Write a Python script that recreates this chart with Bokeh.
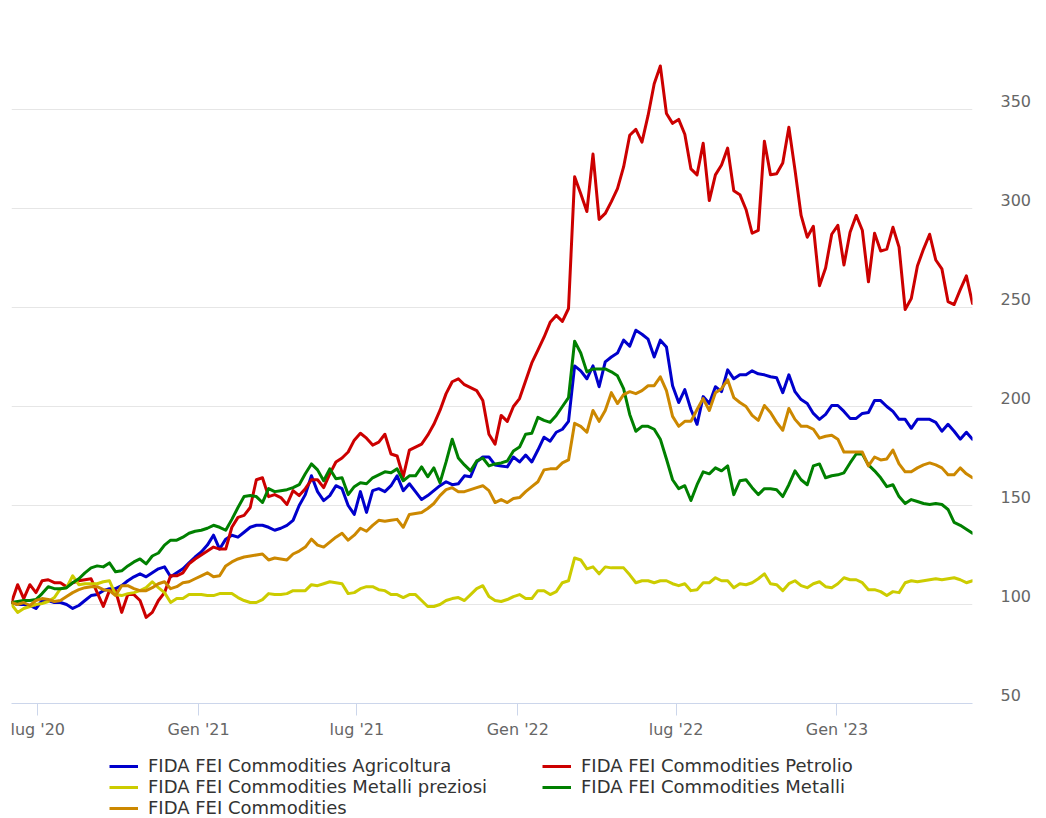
import pandas as pd
from bokeh.plotting import figure
from bokeh.layouts import column
from bokeh.models import FixedTicker, Range1d, Legend, LegendItem
from bokeh.embed import file_html
from bokeh.resources import INLINE

# ---------------- data (weekly index values, start 2020-06-01) ----------------
start_date = "2020-06-01"

agricoltura = [
    101, 100, 100, 99.5, 98, 102, 102, 101, 101, 100,
    98, 99.5, 102, 104.5, 105, 107, 108, 108, 109.5, 112,
    114, 115.5, 114, 116, 118, 119, 114, 116, 118, 121,
    124, 126.5, 130, 135, 128, 133, 135, 134, 136.5, 139,
    140, 140, 139, 137.5, 138.5, 140, 142.5, 150, 155.5, 165,
    157, 152.5, 155, 160, 158.5, 150, 145.5, 157, 146.5, 157.5,
    158.5, 157, 160, 165, 157.5, 161, 157, 153, 155, 157.5,
    160, 162, 160.5, 161, 165, 164.5, 172, 174.5, 174.5, 170.5,
    170, 169.5, 174.5, 172, 175.5, 172, 178, 184.5, 182.5, 187,
    188.5, 192.5, 220.5, 218, 214, 220.5, 210, 222.5, 225, 227,
    233.5, 230.5, 238.5, 236.5, 234, 225, 233.5, 230, 210.5, 202,
    208.5, 198.5, 191, 205, 201.5, 210, 207.5, 218.5, 214, 216,
    216, 218, 216.5, 216, 215, 214.5, 207, 216, 207.5, 203.5,
    201.5, 196.5, 193.5, 196, 200.5, 200.5, 197.5, 194, 194, 196.5,
    197, 203, 203, 200, 197.5, 193.5, 193.5, 189, 193.5, 193.5,
    193.5, 192, 187.5, 191, 187.5, 183.5, 187, 183.5,
]

petrolio = [
    101, 110, 103, 110, 106, 112, 112.5, 111, 111, 109,
    111, 112, 112.5, 113, 106, 99, 107, 107, 96, 105,
    105, 102, 93.5, 96, 102, 106, 114.5, 114.5, 116, 120.5,
    123, 125, 127, 129, 128, 128, 139, 144, 145, 149,
    163, 164, 154.5, 155.5, 154, 150.5, 157.5, 155, 158.5, 163,
    163, 159, 166, 172, 174, 177, 183, 186.5, 184, 180.5,
    182, 186, 176, 175, 164.5, 178, 179.5, 181, 185.5, 191,
    198, 206.5, 212.5, 214, 211, 209.5, 208, 203, 186, 181,
    195.5, 192.5, 200, 204, 213, 222, 228.5, 235, 242.5, 246,
    243, 249.5, 316, 307.5, 298.5, 327.5, 294.5, 297.5, 303.5, 310,
    321, 337, 340, 333.5, 347, 363, 372, 348, 343, 345,
    337.5, 320, 317, 333, 304, 317, 322, 330.5, 309, 307,
    299.5, 287.5, 289, 334, 317, 317.5, 323, 341, 319.5, 296.5,
    285.5, 291, 261, 270, 287, 291.5, 271.5, 288, 296.5, 289,
    263, 287.5, 278.5, 279.5, 290.5, 280.5, 249, 254.5, 271, 279.5,
    287, 274, 269.5, 253, 251.5, 259, 266, 252,
]

metalli_preziosi = [
    100, 96, 98, 99, 100, 100.5, 101.5, 103.5, 108, 108.5,
    114.5, 110, 110.5, 110.5, 110.5, 111.5, 112, 105, 104.5, 105.5,
    106, 107, 108.5, 111.5, 108.5, 106, 101, 103, 103, 105,
    105, 105, 104.5, 104.5, 105.5, 105.5, 105.5, 103.5, 102, 101,
    101, 102.5, 105.5, 105, 105, 105.5, 107, 107, 107, 110,
    109.5, 110.5, 111.5, 111, 110.5, 105.5, 106, 108, 109, 109,
    107.5, 107, 105, 105, 103.5, 105, 105, 102, 99, 99,
    100, 102, 103, 103.5, 102, 105, 108, 109.5, 104, 102,
    101.5, 102.5, 104, 105, 103, 103, 107, 107, 105, 106.5,
    111, 112, 123.5, 122.5, 118, 119, 115.5, 119, 118.5, 118.5,
    118.5, 115, 111, 112, 112, 111, 112, 112, 110.5, 109.5,
    110.5, 107, 107.5, 111, 111, 113.5, 112, 112, 108.5, 110.5,
    110, 111, 113, 115.5, 110.5, 110, 107, 110.5, 112, 109.5,
    108.5, 110.5, 111.5, 109, 108.5, 110.5, 113.5, 112.5, 112.5, 111,
    107.5, 107.5, 106.5, 104.5, 106.5, 106, 111, 112, 111.5, 112,
    112.5, 113, 112.5, 113, 113.5, 112.5, 111, 112,
]

metalli = [
    101, 101.5, 102, 102, 102.5, 105.5, 109, 108, 108, 108.5,
    111, 113, 116, 118.5, 119.5, 119, 121, 116.5, 117, 119.5,
    121.5, 123, 120.5, 124.5, 126, 130, 132.5, 132.5, 134, 136,
    137, 137.5, 138.5, 140, 139, 137.5, 143, 149, 154.5, 155,
    154.5, 151.5, 158.5, 157, 157.5, 158, 159, 160.5, 166, 171,
    168, 162.5, 168.5, 163.5, 164, 155.5, 159.5, 161.5, 161, 164,
    165.5, 167, 166.5, 168.5, 162.5, 165, 165, 169.5, 164.5, 169,
    161.5, 172, 183.5, 174, 170.5, 167.5, 172.5, 174, 170, 171,
    171.5, 172.5, 177.5, 179.5, 186, 186.5, 194.5, 193, 192, 195.5,
    200, 204.5, 233, 227, 217.5, 219, 219, 219, 217.5, 215.5,
    209, 196, 187.5, 190, 190, 188.5, 183.5, 173.5, 163, 158.5,
    160, 152.5, 160.5, 167, 166, 169, 167.5, 170, 155.5, 162.5,
    163, 159, 155.5, 158.5, 158.5, 158, 154.5, 160.5, 167.5, 163,
    160.5, 170, 171, 164, 165, 165.5, 166.5, 171.5, 176, 176,
    170.5, 167.5, 164, 159.5, 160.5, 154.5, 151, 153, 152, 151,
    150.5, 151, 150.5, 148, 141.5, 140, 138, 136,
]

commodities = [
    101, 100, 101, 99.5, 102, 103, 102.5, 101.5, 102, 104,
    106, 107.5, 108.5, 109, 109, 107.5, 107, 104.5, 109.5, 109.5,
    108, 107, 107, 108.5, 110.5, 111.5, 108, 109, 111, 111.5,
    113, 114.5, 116, 114, 114.5, 119.5, 121.5, 123, 124, 124.5,
    125, 125.5, 122.5, 123.5, 123, 122.5, 125.5, 127, 129, 133,
    130, 129, 131.5, 134, 136, 132.5, 135, 138.5, 137, 140,
    142.5, 142, 142.5, 143, 139, 145.5, 146, 146.5, 148.5, 151,
    155, 158, 159, 157, 157, 158, 159, 160, 157.5, 151.5,
    153, 151.5, 153.5, 154, 157, 159.5, 162, 168, 168.5, 168.5,
    171.5, 173, 191.5, 190, 187, 198, 192.5, 198, 207, 201.5,
    206, 207.5, 206.5, 208, 210.5, 210.5, 215, 208, 195, 190,
    192.5, 192.5, 198.5, 204, 198, 207, 209, 213.5, 204.5, 202,
    200, 195.5, 193, 200.5, 197, 192, 188, 199, 193.5, 190,
    190, 188.5, 184, 185, 185.5, 183.5, 177, 177, 177, 177,
    170, 174.5, 173, 173.5, 178, 171, 167, 167, 169, 170.5,
    171.5, 170.5, 169, 165.5, 165.5, 169, 166, 164,
]

series_names = [
    "FIDA FEI Commodities Agricoltura",
    "FIDA FEI Commodities Petrolio",
    "FIDA FEI Commodities Metalli preziosi",
    "FIDA FEI Commodities Metalli",
    "FIDA FEI Commodities",
]
series_values = [agricoltura, petrolio, metalli_preziosi, metalli, commodities]
series_colors = ["#0000cc", "#cc0000", "#cccc00", "#008000", "#cc8800"]

x_tick_dates = ["2020-07-01", "2021-01-01", "2021-07-01", "2022-01-01", "2022-07-01", "2023-01-01"]
x_tick_labels = ["lug '20", "Gen '21", "lug '21", "Gen '22", "lug '22", "Gen '23"]
y_tick_values = [50, 100, 150, 200, 250, 300, 350]
y_grid_values = [50, 100, 150, 200, 250, 300, 350, 400]

# ---------------- build ----------------
n = len(agricoltura)
dates = pd.date_range(start_date, periods=n, freq="7D")
x_ms = [int(d.value // 10**6) for d in dates]
xt_ms = [int(pd.Timestamp(d).value // 10**6) for d in x_tick_dates]

W = 1046
H_MAIN = 745
H_LEG = 73

p = figure(
    width=W, height=H_MAIN,
    output_backend="svg", toolbar_location=None,
    x_range=Range1d(x_ms[0], x_ms[-1]),
    y_range=Range1d(50, 400),
    y_axis_location="right",
    min_border_left=11, min_border_right=74,
    min_border_top=10, min_border_bottom=42,
)
p.outline_line_color = None
p.background_fill_color = "white"
p.border_fill_color = "white"

for vals, col in zip(series_values, series_colors):
    p.line(x_ms, vals, line_color=col, line_width=3,
           line_join="round", line_cap="round")

# x axis
xa = p.xaxis[0]
xa.ticker = FixedTicker(ticks=xt_ms)
xa.major_label_overrides = {t: lab for t, lab in zip(xt_ms, x_tick_labels)}
xa.axis_line_color = "#ccd6eb"
xa.major_tick_line_color = "#ccd6eb"
xa.minor_tick_line_color = None
xa.major_tick_in = 0
xa.major_tick_out = 12
xa.major_label_standoff = 4
xa.major_label_text_font = "DejaVu Sans"
xa.major_label_text_font_size = "16px"
xa.major_label_text_color = "#666666"
p.xgrid.visible = False

# y axis (labels sit just above their gridline)
lift = 4.25
ya = p.yaxis[0]
ya.ticker = FixedTicker(ticks=[v + lift for v in y_tick_values])
ya.major_label_overrides = {v + lift: str(v) for v in y_tick_values}
ya.axis_line_color = None
ya.major_tick_line_color = None
ya.minor_tick_line_color = None
ya.major_tick_in = 0
ya.major_tick_out = 0
ya.major_label_standoff = 28
ya.major_label_text_font = "DejaVu Sans"
ya.major_label_text_font_size = "16px"
ya.major_label_text_color = "#666666"
p.ygrid[0].ticker = FixedTicker(ticks=y_grid_values)
p.ygrid[0].grid_line_color = "#e6e6e6"
p.ygrid[0].grid_line_width = 1

# ---------------- legend strip ----------------
# the same series are drawn here far outside the strip's visible range,
# only so that the legend has renderers to take its line swatches from
q = figure(
    width=W, height=H_LEG,
    output_backend="svg", toolbar_location=None,
    x_range=Range1d(x_ms[0], x_ms[-1]), y_range=Range1d(-20, -10),
    x_axis_type=None, y_axis_type=None,
    min_border_left=0, min_border_right=0,
    min_border_top=0, min_border_bottom=0,
)
q.outline_line_color = None
q.xgrid.visible = False
q.ygrid.visible = False
q.background_fill_color = "white"
q.border_fill_color = "white"

legend_renderers = [
    q.line(x_ms, vals, line_color=col, line_width=3)
    for vals, col in zip(series_values, series_colors)
]
items = [LegendItem(label=name, renderers=[r])
         for name, r in zip(series_names, legend_renderers)]
legend = Legend(items=items, location=(98, 0), orientation="horizontal", ncols=2,
                padding=0, spacing=0, margin=0,
                glyph_width=29, glyph_height=20, label_height=20, label_width=394,
                label_standoff=10,
                label_text_font="DejaVu Sans", label_text_font_size="18px",
                label_text_color="#333333",
                border_line_color=None, background_fill_alpha=0)
q.add_layout(legend, "center")

layout = column(p, q, spacing=0)
open("out.html", "w").write(file_html(layout, INLINE))
